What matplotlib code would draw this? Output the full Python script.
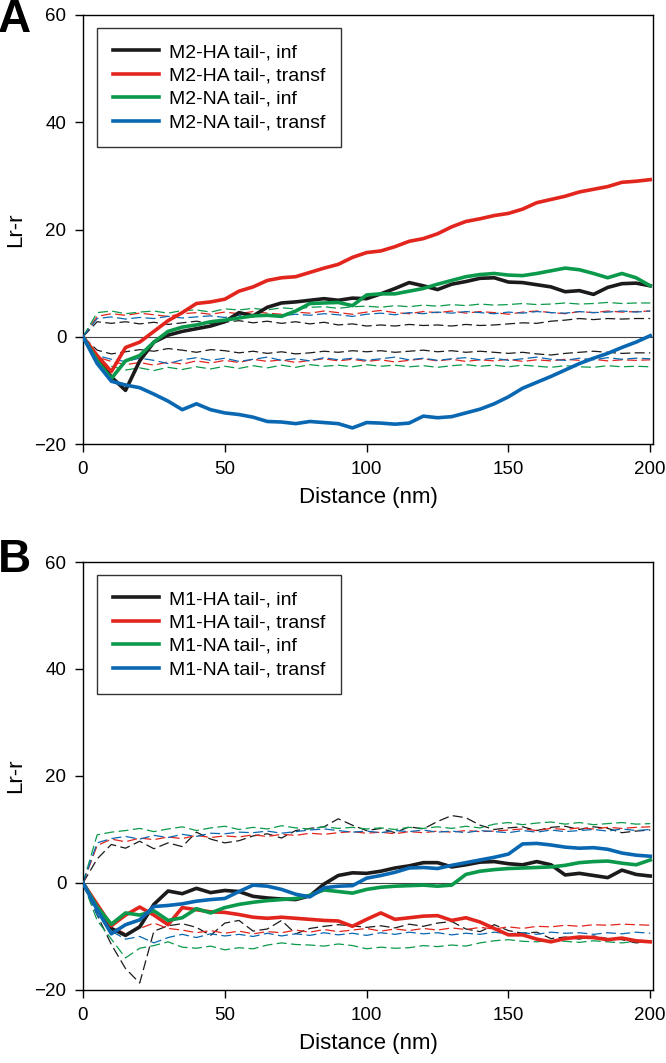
import numpy as np
import matplotlib.pyplot as plt

plt.rcParams['font.family'] = ['Liberation Sans', 'DejaVu Sans']

# distance grid (nm)
dist = np.arange(0, 201, 5)

# ---- panel A : M2 ----
a_labels = ["M2-HA tail-, inf", "M2-HA tail-, transf", "M2-NA tail-, inf", "M2-NA tail-, transf"]

a_ha_inf = [0, -4, -7.5, -10, -4.5, -1, 0.3, 1, 1.5, 2, 2.8, 4.5, 3.9, 5.5, 6.3, 6.5, 6.8, 7.1, 6.8, 7.2,
            7.1, 8, 9, 10.1, 9.5, 8.8, 9.8, 10.3, 10.9, 11, 10.2, 10.1, 9.7, 9.3, 8.4, 8.6, 7.9, 9.2, 9.9, 10, 9.5]
a_ha_transf = [0, -3.5, -6.5, -2, -1, 1, 3, 4.5, 6.2, 6.5, 7, 8.5, 9.3, 10.5, 11, 11.2, 12, 12.8, 13.5, 14.8,
               15.7, 16, 16.8, 17.8, 18.3, 19.2, 20.5, 21.5, 22, 22.6, 23, 23.8, 25, 25.6, 26.2, 27, 27.5, 28, 28.8, 29, 29.3]
a_na_inf = [0, -4.5, -7.8, -4.5, -3.5, -1, 1, 1.8, 2.2, 2.8, 3.1, 3.5, 3.9, 4, 3.8, 4.8, 6.2, 6.3, 6.4, 5.8,
            7.8, 8, 8, 8.5, 9, 9.8, 10.5, 11.2, 11.6, 11.8, 11.5, 11.4, 11.8, 12.3, 12.8, 12.5, 11.8, 11, 11.8, 11, 9.5]
a_na_transf = [0, -5, -8.3, -9, -9.5, -10.7, -12, -13.6, -12.5, -13.6, -14.2, -14.5, -15, -15.8, -15.9, -16.2, -15.8,
               -16, -16.2, -17, -16, -16.1, -16.3, -16.1, -14.8, -15.1, -14.9, -14.2, -13.5, -12.5, -11.2, -9.6, -8.5,
               -7.4, -6.2, -5, -4, -3.1, -2, -1, 0.2]

# confidence envelopes (upper / lower)
a_ha_inf_hi = [0, 2.8, 2.5, 2.8, 2.4, 2.7, 2.3, 2.6, 2.9, 2.5, 2.7, 3, 2.6, 2.9, 2.5, 2.8, 2.4, 2.7, 2.2, 2.4,
               2, 2.2, 2, 2.3, 2.1, 2.2, 2, 2.3, 2.1, 2.2, 2.4, 2.6, 2.5, 2.9, 3.1, 3.4, 3.2, 3.4, 3.3, 3.4, 3.4]
a_ha_inf_lo = [0, -2.5, -3.2, -2.8, -2.4, -2.7, -2.2, -2.5, -2.9, -2.4, -2.6, -3, -2.7, -3.1, -2.8, -3.2, -3, -2.7,
               -2.9, -2.6, -2.8, -2.6, -2.9, -2.7, -2.5, -2.8, -2.6, -2.9, -2.7, -2.9, -3.1, -2.9, -3.2, -3.4, -3.1,
               -2.9, -2.7, -2.9, -3.1, -3, -3]
a_ha_transf_hi = [0, 3.8, 4.3, 4, 4.4, 4.1, 3.8, 4.3, 4.5, 4.2, 4.6, 4.3, 4.7, 4.4, 4.2, 4.6, 4.4, 4.8, 4.5, 4.2,
                  4.6, 4.9, 4.5, 4.3, 4.7, 4.5, 4.8, 4.4, 4.7, 4.5, 4.2, 4.6, 4.8, 4.5, 4.3, 4.7, 4.5, 4.8, 4.6, 4.7, 4.8]
a_ha_transf_lo = [0, -3.8, -4.6, -5.2, -4.8, -5.3, -4.7, -5.1, -4.5, -4.9, -4.4, -4.8, -4.2, -4.6, -4.3, -4.8, -4.4,
                  -4.1, -4.5, -4.2, -4.6, -4.3, -4.7, -4.4, -4.1, -4.5, -4.2, -4.6, -4.3, -4.5, -4.2, -4.6, -4.3, -4.5,
                  -4.2, -4.4, -4.2, -4.5, -4.3, -4.4, -4.3]
a_na_inf_hi = [0, 4.5, 4.8, 4.3, 4.6, 4.8, 4.4, 4.9, 5, 4.6, 5.2, 5, 5.3, 5, 5.4, 5.2, 5.5, 5.6, 5.3, 5.6,
               5.7, 5.5, 5.8, 5.6, 5.9, 5.7, 6, 5.8, 6.1, 5.9, 6, 6.2, 6, 6.1, 6.3, 6.1, 6.2, 6.4, 6.2, 6.3, 6.3]
a_na_inf_lo = [0, -4.5, -5.5, -6.2, -5.8, -6.3, -5.7, -6.1, -5.6, -6, -5.5, -5.9, -5.4, -5.8, -5.3, -5.7, -5.2, -5.5,
               -5.3, -5.6, -5.2, -5.5, -5.3, -5.6, -5.4, -5.7, -5.4, -5.2, -5.5, -5.3, -5.6, -5.3, -5.5, -5.7, -5.4,
               -5.6, -5.7, -5.4, -5.6, -5.5, -5.6]
a_na_transf_hi = [0, 3.4, 3.7, 3.3, 3.6, 3.4, 3.8, 3.5, 3.7, 3.9, 3.6, 4, 3.8, 4.1, 3.9, 4.2, 4, 4.3, 4.1, 3.8,
                  4.2, 4.4, 4.1, 4.5, 4.3, 4.6, 4.4, 4.7, 4.5, 4.3, 4.6, 4.4, 4.7, 4.5, 4.4, 4.7, 4.5, 4.6, 4.8, 4.6, 4.8]
a_na_transf_lo = [0, -3.5, -4.2, -4.6, -4, -4.4, -5, -4.3, -3.9, -4.4, -4, -4.6, -4.2, -3.8, -4.4, -4.1, -4.5, -3.9,
                  -4.3, -4, -4.4, -4.1, -3.8, -4.3, -4, -4.4, -4.1, -3.9, -4.3, -4, -4.4, -4.1, -3.8, -4.2, -4.4, -4,
                  -4.3, -3.9, -4.2, -4, -4.1]

# ---- panel B : M1 ----
b_labels = ["M1-HA tail-, inf", "M1-HA tail-, transf", "M1-NA tail-, inf", "M1-NA tail-, transf"]

b_ha_inf = [0, -4.5, -8.5, -9.8, -8.2, -4, -1.5, -2, -1, -1.8, -1.4, -1.6, -2.5, -2.8, -3, -3.1, -2.4, -0.2, 1.4,
            1.9, 1.8, 2.2, 2.8, 3.2, 3.8, 3.8, 3, 3.4, 3.9, 4, 3.6, 3.4, 4, 3.4, 1.5, 1.8, 1.4, 1, 2.4, 1.6, 1.3]
b_ha_transf = [0, -4, -8, -6, -4.5, -6, -7.8, -4.6, -5, -5.4, -5.5, -5.9, -6.4, -6.6, -6.4, -6.6, -6.8, -7, -7.1,
               -8.1, -6.8, -5.6, -6.8, -6.5, -6.2, -6.1, -7, -6.5, -7.3, -8.5, -9.7, -9.7, -10.5, -11, -10.4, -10.1,
               -10.2, -10.6, -10.3, -10.8, -11]
b_na_inf = [0, -4.5, -7.7, -5.6, -6, -5.2, -7, -6.5, -4.8, -5.6, -4.6, -4, -3.6, -3.3, -3.1, -2.9, -2.3, -1.3, -1.6,
            -1.9, -1.2, -0.8, -0.6, -0.5, -0.4, -0.6, -0.4, 1.6, 2.2, 2.5, 2.7, 2.8, 2.9, 3, 3.3, 3.8, 4, 4.1, 3.7, 3.4, 4.3]
b_na_transf = [0, -5, -9.5, -7.8, -6.9, -4.4, -4.2, -3.9, -3.4, -3.1, -2.9, -1.6, -0.4, -0.6, -1.2, -2.1, -2.6, -0.9,
               -0.6, -0.5, 0.9, 1.4, 2, 2.8, 2.9, 2.7, 3.3, 3.8, 4.3, 4.8, 5.4, 7.3, 7.4, 7.1, 6.7, 6.5, 6.6, 6.3, 5.6,
               5.2, 5]

b_ha_inf_hi = [0, 4.5, 7.2, 6.5, 7.8, 6.4, 7.5, 6.8, 9.5, 8.2, 7.5, 7.9, 8.8, 9.2, 8.4, 9.8, 10.2, 10.5, 12, 10.8,
               9.8, 10.2, 9.4, 10.5, 10.1, 11.5, 12.6, 12.2, 10.8, 10, 10.3, 10.5, 9.8, 10.4, 10.6, 10, 10.5, 10.2, 9.4,
               9.7, 9.9]
b_ha_inf_lo = [0, -6, -11.5, -16, -18.7, -9, -8, -7.6, -8.3, -9.8, -7.5, -7, -9, -8.6, -7, -9.5, -8.5, -8.1, -7.8,
               -8, -8.3, -8, -8.4, -7.7, -8.1, -7.5, -7.2, -8.6, -9.1, -7.8, -8.9, -9.4, -9.2, -10.4, -10.1, -10.5,
               -9.9, -10.4, -10.6, -11.2, -10.9]
b_ha_transf_hi = [0, 7, 8.2, 7.7, 8.4, 8.1, 8.6, 8.3, 8.9, 8.5, 8.8, 8.6, 9, 8.7, 9.1, 8.9, 9.3, 9.1, 9.4, 9.6,
                  9.3, 9.5, 9.2, 9.6, 9.4, 9.7, 9.5, 9.8, 9.6, 9.7, 9.9, 10.1, 9.8, 10.2, 10, 10.3, 10.1, 10.4, 10.2,
                  10.4, 10.5]
b_ha_transf_lo = [0, -5.5, -8, -9.5, -8.5, -7.5, -8.5, -8.8, -9.3, -8.9, -9.4, -9, -9.5, -9.1, -9.3, -8.8, -9.2,
                  -8.7, -9.1, -8.8, -8.5, -9, -8.6, -8.9, -8.5, -8.8, -8.4, -8.7, -8.3, -8.6, -8.2, -8.5, -8.1, -8.2,
                  -7.9, -8.1, -7.8, -7.9, -7.7, -7.8, -7.9]
b_na_inf_hi = [0, 9, 9.5, 9.8, 10.2, 9.6, 10.1, 10.5, 9.8, 10.3, 10.6, 10, 10.4, 10.1, 10.7, 10.3, 10.1, 10.5,
               10.2, 10.4, 10.1, 10.3, 10, 10.4, 10.2, 10.5, 10.2, 10.6, 10.3, 11, 11.3, 10.9, 11.2, 11.4, 11, 11.3,
               10.9, 11.1, 11.3, 11, 11.1]
b_na_inf_lo = [0, -7, -10.5, -14, -12.2, -11.7, -11, -12, -12.2, -11.8, -12.5, -12.1, -12.3, -11.6, -11.2, -11.5,
               -11.6, -11.8, -11.4, -11.7, -12.3, -12, -12.2, -12.1, -11.7, -11.9, -11.6, -11.8, -11.2, -10.8, -10.6,
               -10.9, -11, -10.7, -10.9, -11.1, -10.8, -11, -11.2, -10.9, -11.1]
b_na_transf_hi = [0, 7.5, 8.3, 8.7, 8.2, 8.9, 8.5, 9.1, 8.7, 9.3, 9.2, 9.5, 9.4, 9.7, 9.3, 9.6, 9.9, 10.1, 9.8, 9.5,
                  9.7, 9.4, 9.8, 9.6, 9.9, 9.5, 9.7, 9.4, 9.8, 9.6, 9.4, 9.8, 9.5, 9.9, 9.6, 9.8, 10, 9.7, 10.1, 9.8, 10]
b_na_transf_lo = [0, -6, -9, -10.5, -10, -11.2, -10.2, -9.6, -10.2, -9.5, -9.9, -9.6, -10, -9.4, -9.9, -9.5, -9.8,
                  -9.3, -9.7, -9.4, -9.8, -9.3, -9.6, -9.2, -9.5, -9.3, -9.7, -9.4, -9.6, -9.2, -9.5, -9.3, -9.6, -9.2,
                  -9.4, -9.3, -9.6, -9.3, -9.5, -9.2, -9.4]

colors = ["#1c1a1b", "#e2251d", "#0b9a4c", "#0a68b2"]

panels = [
    ("A", a_labels,
     [a_ha_inf, a_ha_transf, a_na_inf, a_na_transf],
     [(a_ha_inf_hi, a_ha_inf_lo), (a_ha_transf_hi, a_ha_transf_lo),
      (a_na_inf_hi, a_na_inf_lo), (a_na_transf_hi, a_na_transf_lo)]),
    ("B", b_labels,
     [b_ha_inf, b_ha_transf, b_na_inf, b_na_transf],
     [(b_ha_inf_hi, b_ha_inf_lo), (b_ha_transf_hi, b_ha_transf_lo),
      (b_na_inf_hi, b_na_inf_lo), (b_na_transf_hi, b_na_transf_lo)]),
]

fig = plt.figure(figsize=(6.66, 10.63), dpi=100)
ax_rects = [[0.1246, 0.5823, 0.856, 0.4036], [0.1246, 0.0687, 0.856, 0.4026]]
letter_y = [1.002, 0.494]

for (letter, labels, solids, envs), rect, ly in zip(panels, ax_rects, letter_y):
    ax = fig.add_axes(rect)
    ax.axhline(0, color="#444444", lw=0.8, zorder=1)
    for c, (hi, lo) in zip(colors, envs):
        ax.plot(dist, hi, color=c, lw=0.9, ls=(0, (8, 3.5)), zorder=2)
        ax.plot(dist, lo, color=c, lw=0.9, ls=(0, (8, 3.5)), zorder=2)
    for c, y, lab in zip(colors, solids, labels):
        ax.plot(dist, y, color=c, lw=2.6, label=lab, zorder=3)

    ax.set_xlim(0, 201)
    ax.set_ylim(-20, 60)
    ax.set_xticks([0, 50, 100, 150, 200])
    ax.set_yticks([-20, 0, 20, 40, 60])
    ax.tick_params(direction="out", length=6, width=1, labelsize=13.5, pad=6,
                   top=False, right=False)
    for s in ax.spines.values():
        s.set_linewidth(1)
    ax.set_xlabel("Distance (nm)", fontsize=16, labelpad=7)
    ax.set_ylabel("Lr-r", fontsize=16, labelpad=6)
    leg = ax.legend(loc="upper left", bbox_to_anchor=(0.0246, 0.97), borderaxespad=0,
                    fontsize=14, frameon=True, fancybox=False, edgecolor="black",
                    handlelength=2.4, handletextpad=0.5, labelspacing=0.3, borderpad=0.8)
    leg.get_frame().set_linewidth(1)
    fig.text(-0.003, ly, letter, fontsize=33, fontweight="bold", va="top", ha="left")

fig.savefig("out.png", dpi=100)
